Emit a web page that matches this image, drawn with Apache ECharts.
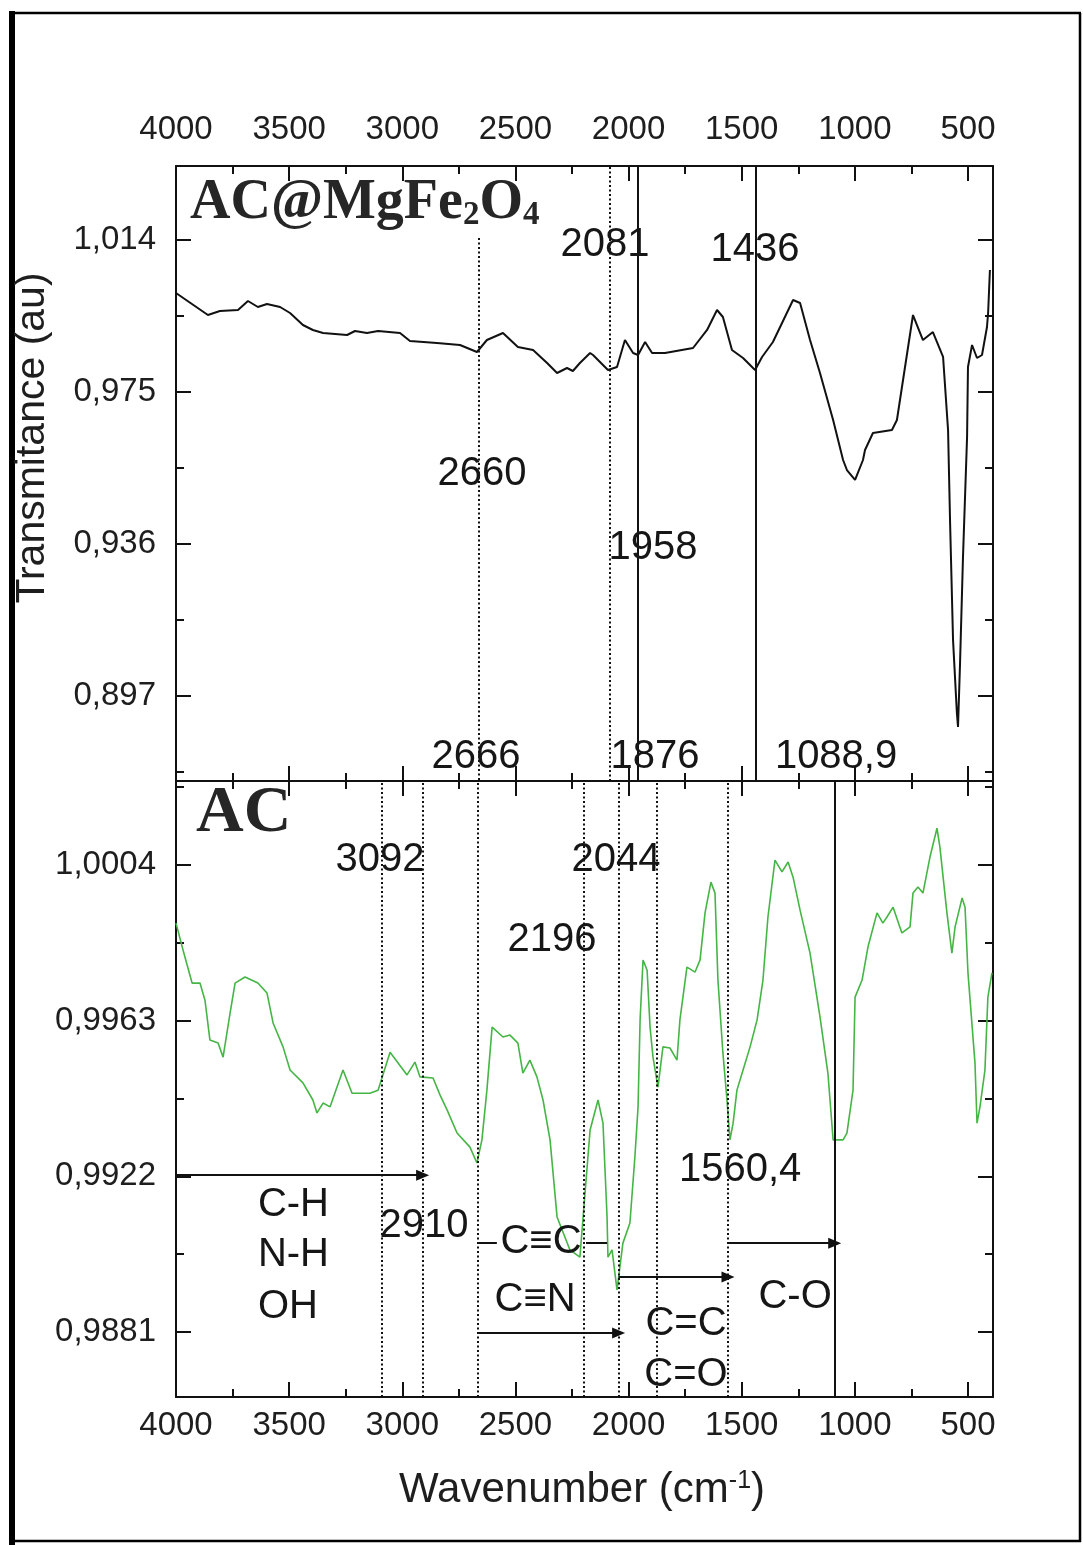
<!DOCTYPE html>
<html>
<head>
<meta charset="utf-8">
<script src="https://cdn.jsdelivr.net/npm/echarts@6/dist/echarts.min.js"></script>
<style>
html, body { margin: 0; padding: 0; background: #fff; }
#chart { width: 1083px; height: 1545px; }
</style>
</head>
<body>
<div id="chart"></div>
<script>
// tick values
var xMajorTicks = [4000, 3500, 3000, 2500, 2000, 1500, 1000, 500];
var xMinorTicks = [3750, 3250, 2750, 2250, 1750, 1250, 750];
var topMajorTicks = [1.014, 0.975, 0.936, 0.897];
var topMinorTicks = [0.9945, 0.9555, 0.9165, 0.8775];
var botMajorTicks = [1.0004, 0.9963, 0.9922, 0.9881];
var botMinorTicks = [1.00245, 0.99835, 0.99425, 0.99015];

// AC@MgFe2O4 spectrum
var topWavenumber = [4000, 3859, 3806, 3726, 3682, 3638, 3598, 3540, 3496, 3439,
    3395, 3350, 3244, 3209, 3156, 3107, 3010, 2966, 2847, 2745,
    2670, 2626, 2555, 2489, 2422, 2360, 2316, 2272, 2246, 2215,
    2170, 2157, 2091, 2051, 2016, 1980, 1958, 1927, 1896, 1839,
    1715, 1653, 1609, 1583, 1543, 1494, 1441, 1410, 1362, 1273,
    1242, 1198, 1154, 1096, 1052, 1035, 999, 964, 955, 920,
    836, 814, 787, 743, 699, 655, 610, 588, 579, 566,
    549, 544, 535, 522, 504, 500, 482, 460, 438, 416, 411, 403];
var topTransmitance = [1.0004, 0.99475, 0.99578, 0.99604, 0.99835, 0.99681, 0.99758, 0.99681, 0.99527, 0.99219,
    0.99091, 0.99014, 0.98962, 0.99065, 0.99014, 0.99065, 0.99014, 0.98808, 0.98757, 0.98706,
    0.98526, 0.98834, 0.99014, 0.98654, 0.98577, 0.98244, 0.97987, 0.98116, 0.98039, 0.98244,
    0.985, 0.98449, 0.98064, 0.98141, 0.98834, 0.985, 0.98449, 0.98783, 0.985, 0.985,
    0.98629, 0.99091, 0.99604, 0.99424, 0.98577, 0.98372, 0.98064, 0.98398, 0.98783, 0.9986,
    0.99783, 0.98834, 0.97987, 0.96781, 0.95755, 0.95498, 0.95242, 0.95755, 0.96011, 0.96448,
    0.96525, 0.96781, 0.97808, 0.99475, 0.98834, 0.99039, 0.98398, 0.96525, 0.94138, 0.91136,
    0.89263, 0.88903, 0.90546, 0.93266, 0.96345, 0.98141, 0.98706, 0.98372, 0.98449, 0.99168, 0.99527, 1.0063];

// AC spectrum
var botWavenumber = [4000, 3969, 3929, 3894, 3872, 3850, 3814, 3792, 3761, 3739,
    3695, 3638, 3598, 3571, 3527, 3496, 3439, 3395, 3377, 3350,
    3319, 3262, 3222, 3143, 3107, 3054, 2979, 2944, 2922, 2864,
    2833, 2802, 2758, 2701, 2670, 2648, 2626, 2603, 2555, 2524,
    2489, 2467, 2436, 2405, 2378, 2347, 2316, 2259, 2215, 2170,
    2135, 2113, 2095, 2091, 2073, 2051, 2025, 1994, 1972, 1958,
    1949, 1936, 1918, 1905, 1892, 1870, 1848, 1817, 1786, 1773,
    1742, 1706, 1684, 1662, 1636, 1618, 1605, 1583, 1565, 1552,
    1538, 1521, 1494, 1463, 1432, 1406, 1384, 1353, 1322, 1295,
    1273, 1242, 1198, 1154, 1119, 1096, 1052, 1035, 1008, 999,
    968, 942, 902, 876, 858, 831, 792, 756, 743, 721,
    699, 668, 637, 624, 593, 571, 557, 526, 513, 500,
    469, 460, 447, 425, 412, 394];
var botTransmitance = [0.99887, 0.99816, 0.99729, 0.99729, 0.99684, 0.99579, 0.99571, 0.99534, 0.9965, 0.99729,
    0.99745, 0.99729, 0.99703, 0.99624, 0.99561, 0.995, 0.99466, 0.99421, 0.99387, 0.99413,
    0.99403, 0.995, 0.99439, 0.99439, 0.99447, 0.99547, 0.99487, 0.99521, 0.99482, 0.99479,
    0.99434, 0.99395, 0.99334, 0.99297, 0.99255, 0.99316, 0.99447, 0.99613, 0.99587, 0.99592,
    0.99571, 0.99492, 0.99526, 0.99482, 0.99421, 0.99316, 0.99113, 0.99026, 0.99007, 0.99342,
    0.99421, 0.9936, 0.99113, 0.99007, 0.99026, 0.98921, 0.99044, 0.99097, 0.99271, 0.99403,
    0.99632, 0.9979, 0.99763, 0.99613, 0.99534, 0.99455, 0.99561, 0.99558, 0.99526, 0.99632,
    0.99771, 0.99758, 0.9979, 0.99914, 0.99995, 0.99966, 0.99737, 0.99545, 0.99421, 0.99316,
    0.9936, 0.99447, 0.995, 0.99561, 0.99632, 0.99737, 0.99903, 1.00053, 1.00022, 1.00048,
    1.00008, 0.99921, 0.99808, 0.9964, 0.99492, 0.99316, 0.99316, 0.99334, 0.99447, 0.99692,
    0.99737, 0.99824, 0.99914, 0.99887, 0.99903, 0.99929, 0.99861, 0.99877, 0.99966, 0.99982,
    0.99966, 1.00061, 1.00137, 1.00087, 0.99914, 0.99808, 0.99877, 0.99953, 0.99929, 0.99756,
    0.99518, 0.9936, 0.99403, 0.995, 0.99692, 0.99756];

// marked peaks
var topDottedPeaks = [2081];
var topSolidPeaks = [1958, 1436];
var topShortPeak = 2660;
var botDottedPeaks = [3092, 2910, 2666, 2196, 2044, 1876, 1560.4];
var botSolidPeaks = [1088.9];

// band arrows: [from, to, level]
var bandArrows = [[4000, 2910, 0.99223], [2666, 2044, 0.98807], [2044, 1560.4, 0.98955], [1560.4, 1088.9, 0.99044]];
var bandSegments = [[2666, 2582, 0.99044], [2188, 2095, 0.99044]];

// annotation texts: [text, wavenumber, transmitance]
var topNotes = [['2081', 2104, 1.0127], ['1436', 1441, 1.0114], ['2660', 2648, 0.9540], ['1958', 1892, 0.9350],
    ['2666', 2674, 0.8813], ['1876', 1883, 0.8813], ['1088,9', 1083, 0.8813]];
var botNotes = [['3092', 3098, 1.00053], ['2044', 2055, 1.00053], ['2196', 2338, 0.99842], ['1560,4', 1507, 0.99237],
    ['2910', 2904, 0.99089], ['C≡C', 2387, 0.99047], ['C≡N', 2413, 0.98894], ['C=C', 1746, 0.98831],
    ['C=O', 1746, 0.98697], ['C-O', 1264, 0.98902]];
var bandNotes = [['C-H', 3638, 0.99144], ['N-H', 3638, 0.99013], ['OH', 3638, 0.98876]];

var X_MIN = 389.4, X_MAX = 4000;
var TOP_MIN = 0.87518, TOP_MAX = 1.03299;
var BOT_MIN = 0.986387, BOT_MAX = 1.002613;

var ink = '#111';
var labelFont = {fontFamily: 'Liberation Sans', fontSize: 33, color: '#1e1e1e'};

function makeXAxes(grid, pos, showLabel, margin) {
    var major = {
        type: 'value', gridIndex: grid, position: pos, min: X_MIN, max: X_MAX, inverse: true,
        axisLine: {show: true, onZero: false, lineStyle: {color: ink, width: 2}},
        axisTick: {show: true, inside: true, length: 15, customValues: xMajorTicks, lineStyle: {color: ink, width: 2}},
        axisLabel: Object.assign({
            show: showLabel, margin: margin, customValues: xMajorTicks,
            formatter: function (v) { return String(Math.round(v)); }
        }, labelFont),
        splitLine: {show: false}
    };
    var minor = {
        type: 'value', gridIndex: grid, position: pos, min: X_MIN, max: X_MAX, inverse: true,
        axisLine: {show: false},
        axisTick: {show: true, inside: true, length: 8, customValues: xMinorTicks, lineStyle: {color: ink, width: 2}},
        axisLabel: {show: false},
        splitLine: {show: false}
    };
    return [major, minor];
}

function makeYAxes(grid, pos, showLabel, min, max, majors, minors, digits) {
    var major = {
        type: 'value', gridIndex: grid, position: pos, min: min, max: max,
        axisLine: {show: true, onZero: false, lineStyle: {color: ink, width: 2}},
        axisTick: {show: true, inside: true, length: 15, customValues: majors, lineStyle: {color: ink, width: 2}},
        axisLabel: Object.assign({
            show: showLabel, margin: 20, customValues: majors,
            formatter: function (v) { return v.toFixed(digits).replace('.', ','); }
        }, labelFont),
        splitLine: {show: false}
    };
    var minor = {
        type: 'value', gridIndex: grid, position: pos, min: min, max: max,
        axisLine: {show: false},
        axisTick: {show: true, inside: true, length: 8, customValues: minors, lineStyle: {color: ink, width: 2}},
        axisLabel: {show: false},
        splitLine: {show: false}
    };
    return [major, minor];
}

function pairs(xs, ys) {
    return xs.map(function (x, i) { return [x, ys[i]]; });
}

var dotted = {color: ink, width: 2, type: [2, 2.5]};
var solid = {color: ink, width: 2, type: 'solid'};

function fullLines(list, style) {
    return list.map(function (w) { return {xAxis: w, lineStyle: style}; });
}

var topMarks = fullLines(topDottedPeaks, dotted).concat(fullLines(topSolidPeaks, solid));
topMarks.push([{coord: [topShortPeak, 1.0145], lineStyle: dotted}, {coord: [topShortPeak, TOP_MIN]}]);

var botMarks = fullLines(botDottedPeaks, dotted).concat(fullLines(botSolidPeaks, solid));
bandArrows.forEach(function (a) {
    botMarks.push([{coord: [a[0], a[2]], symbol: 'none', lineStyle: solid},
        {coord: [a[1], a[2]], symbol: 'triangle', symbolSize: [11, 13]}]);
});
bandSegments.forEach(function (a) {
    botMarks.push([{coord: [a[0], a[2]], lineStyle: solid}, {coord: [a[1], a[2]]}]);
});

function noteSeries(notes, xi, yi, align) {
    return {
        type: 'scatter', xAxisIndex: xi, yAxisIndex: yi, symbolSize: 0, silent: true, z: 5,
        itemStyle: {opacity: 1},
        data: notes.map(function (n) { return {value: [n[1], n[2]], name: n[0]}; }),
        label: {
            show: true, position: 'inside', align: align, verticalAlign: 'middle',
            formatter: function (p) { return p.name; },
            fontFamily: 'Liberation Sans', fontSize: 40, color: '#161616'
        }
    };
}

var chart = echarts.init(document.getElementById('chart'), null, {renderer: 'canvas'});

var option = {
    animation: false,
    backgroundColor: '#fff',
    grid: [
        {left: 176, top: 166, width: 817, height: 615},
        {left: 176, top: 781, width: 817, height: 616}
    ],
    xAxis: [].concat(
        makeXAxes(0, 'top', true, 20),
        makeXAxes(0, 'bottom', false, 0),
        makeXAxes(1, 'top', false, 0),
        makeXAxes(1, 'bottom', true, 12)
    ),
    yAxis: [].concat(
        makeYAxes(0, 'left', true, TOP_MIN, TOP_MAX, topMajorTicks, topMinorTicks, 3),
        makeYAxes(0, 'right', false, TOP_MIN, TOP_MAX, topMajorTicks, topMinorTicks, 3),
        makeYAxes(1, 'left', true, BOT_MIN, BOT_MAX, botMajorTicks, botMinorTicks, 4),
        makeYAxes(1, 'right', false, BOT_MIN, BOT_MAX, botMajorTicks, botMinorTicks, 4)
    ),
    series: [
        {
            name: 'AC@MgFe2O4', type: 'line', xAxisIndex: 0, yAxisIndex: 0,
            data: pairs(topWavenumber, topTransmitance),
            symbol: 'none', lineStyle: {color: '#111', width: 2}, silent: true,
            markLine: {silent: true, symbol: ['none', 'none'], label: {show: false}, data: topMarks}
        },
        {
            name: 'AC', type: 'line', xAxisIndex: 4, yAxisIndex: 4,
            data: pairs(botWavenumber, botTransmitance),
            symbol: 'none', lineStyle: {color: '#45b545', width: 1.6}, silent: true,
            markLine: {silent: true, symbol: ['none', 'none'], label: {show: false}, data: botMarks}
        },
        noteSeries(topNotes, 0, 0, 'center'),
        noteSeries(botNotes, 4, 4, 'center'),
        noteSeries(bandNotes, 4, 4, 'left')
    ],
    graphic: [
        {
            type: 'text', left: 190, top: 176, z: 10,
            style: {
                text: '{a|AC@MgFe}{s|2}{a|O}{s|4}',
                rich: {
                    a: {fontFamily: 'Liberation Serif', fontWeight: 'bold', fontSize: 56, fill: '#262626'},
                    s: {fontFamily: 'Liberation Serif', fontWeight: 'bold', fontSize: 33, fill: '#262626', verticalAlign: 'bottom'}
                }
            }
        },
        {
            type: 'text', left: 196, top: 781, z: 10,
            style: {text: 'AC', font: 'bold 66px "Liberation Serif"', fill: '#262626'}
        },
        {
            type: 'text', x: 33, y: 438, rotation: Math.PI / 2, z: 10,
            style: {text: 'Transmitance (au)', font: '41px "Liberation Sans"', fill: '#1e1e1e', align: 'center', verticalAlign: 'middle'}
        },
        {
            type: 'text', x: 582, y: 1490, z: 10,
            style: {
                text: '{a|Wavenumber (cm}{b|-1}{a|)}', align: 'center', verticalAlign: 'middle',
                rich: {
                    a: {fontFamily: 'Liberation Sans', fontSize: 42, fill: '#1e1e1e'},
                    b: {fontFamily: 'Liberation Sans', fontSize: 25, fill: '#1e1e1e', verticalAlign: 'top'}
                }
            }
        },
        // outer frame of the figure
        {type: 'line', shape: {x1: 12, y1: 11, x2: 12, y2: 1545}, style: {stroke: '#000', lineWidth: 6}},
        {type: 'line', shape: {x1: 10, y1: 13, x2: 1081, y2: 13}, style: {stroke: '#000', lineWidth: 2.5}},
        {type: 'line', shape: {x1: 1080, y1: 13, x2: 1080, y2: 1542}, style: {stroke: '#000', lineWidth: 2.5}},
        {type: 'line', shape: {x1: 10, y1: 1541, x2: 1081, y2: 1541}, style: {stroke: '#000', lineWidth: 2.5}}
    ]
};

chart.setOption(option);
</script>
</body>
</html>
